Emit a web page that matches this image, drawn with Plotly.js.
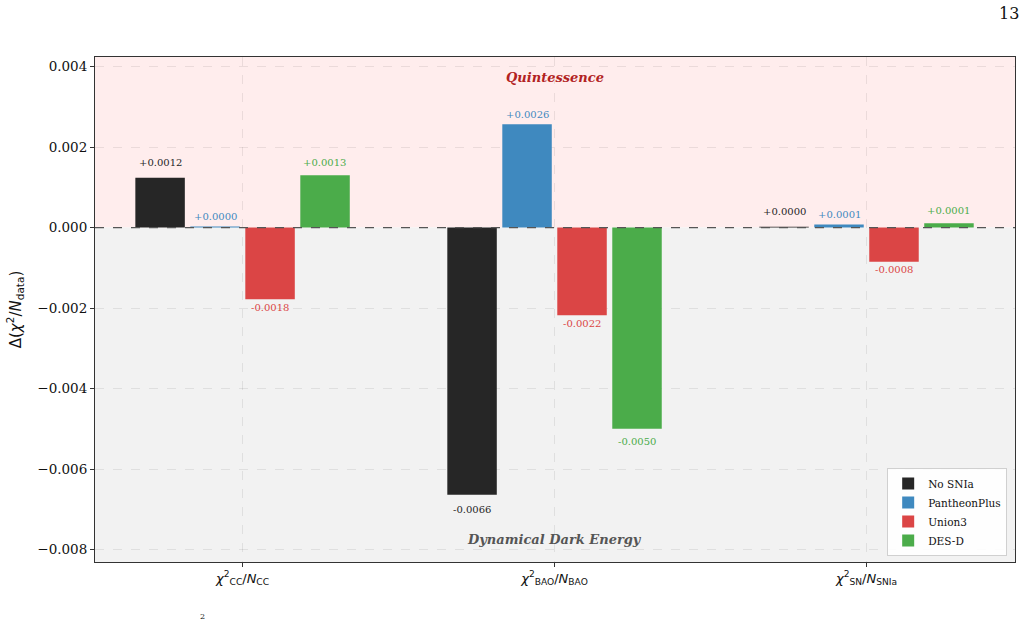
<!DOCTYPE html>
<html>
<head>
<meta charset="utf-8">
<script src="https://cdn.plot.ly/plotly-3.0.1.min.js"></script>
<style>html,body{margin:0;padding:0;background:#fff;}#chart{width:1024px;height:622px;}</style>
</head>
<body>
<div id="chart"></div>
<script>
var categories = [
  "<i>χ</i><sup>2</sup><sub>CC</sub>/<i>N</i><sub>CC</sub>",
  "<i>χ</i><sup>2</sup><sub>BAO</sub>/<i>N</i><sub>BAO</sub>",
  "<i>χ</i><sup>2</sup><sub>SN</sub>/<i>N</i><sub>SNIa</sub>"
];
var seriesNames = ["No SNIa", "PantheonPlus", "Union3", "DES-D"];
var noSNIa = [0.00124, -0.00664, 0.00002];
var pantheonPlus = [0.00003, 0.00257, 0.00008];
var union3 = [-0.00178, -0.00218, -0.00085];
var desD = [0.00130, -0.00500, 0.00011];
var seriesValues = [noSNIa, pantheonPlus, union3, desD];
var seriesColors = ["#262626", "#3f89bf", "#db4545", "#4bac4a"];
var yTicks = [-0.008, -0.006, -0.004, -0.002, 0, 0.002, 0.004];

// label styling (pixel offsets of value labels from bar ends)
var labelOffsets = [15, 10, 8, 13];
var barStepPx = 54.9;

function fmt(v) { return (v >= 0 ? "+" : "-") + Math.abs(v).toFixed(4); }

var traces = seriesNames.map(function(name, i) {
  return {
    type: "bar",
    name: name,
    x: categories,
    y: seriesValues[i],
    marker: {color: seriesColors[i], line: {width: 0}},
    hoverinfo: "skip"
  };
});

var valueLabels = [];
seriesValues.forEach(function(vals, i) {
  vals.forEach(function(v, j) {
    valueLabels.push({
      xref: "x", yref: "y", x: categories[j], y: v,
      xshift: (i - 1.5) * barStepPx,
      yshift: (v >= 0 ? 1 : -1) * labelOffsets[i],
      yanchor: "middle", xanchor: "center",
      text: fmt(v), showarrow: false,
      font: {family: "DejaVu Serif", size: 10, color: seriesColors[i]}
    });
  });
});

var yTop = 0.00424, yBot = -0.00831;

var layout = {
  width: 1024, height: 622,
  margin: {l: 95, r: 9, t: 57, b: 60},
  paper_bgcolor: "#ffffff",
  plot_bgcolor: "#ffffff",
  barmode: "group",
  bargap: 0.295,
  bargroupgap: 0.1,
  showlegend: true,
  legend: {
    x: 0.9915, y: 0.012, xanchor: "right", yanchor: "bottom",
    bgcolor: "rgba(255,255,255,0.9)", bordercolor: "#d0d0d0", borderwidth: 1,
    font: {family: "DejaVu Serif", size: 10.5, color: "#111"},
    tracegroupgap: 0, itemwidth: 30
  },
  xaxis: {
    range: [-0.473, 2.476],
    showgrid: true, gridcolor: "rgba(0,0,0,0.08)", griddash: "dash", gridwidth: 1,
    showline: true, mirror: true, linecolor: "#333", linewidth: 1,
    ticks: "outside", ticklen: 4, tickcolor: "#333",
    tickfont: {family: "DejaVu Sans", size: 13, color: "#111"},
    zeroline: false, fixedrange: true
  },
  yaxis: {
    range: [yBot, yTop],
    tickvals: yTicks, tickformat: ".3f",
    showgrid: true, gridcolor: "rgba(0,0,0,0.08)", griddash: "dash", gridwidth: 1,
    showline: true, mirror: true, linecolor: "#333", linewidth: 1,
    ticks: "outside", ticklen: 4, tickcolor: "#333",
    tickfont: {family: "DejaVu Serif", size: 13.5, color: "#111"},
    zeroline: false,
    title: {text: "Δ(<i>χ</i><sup>2</sup>/<i>N</i><sub>data</sub>)", font: {family: "DejaVu Sans", size: 15, color: "#111"}, standoff: 12},
    fixedrange: true
  },
  shapes: [
    {type: "rect", xref: "paper", yref: "y", x0: 0, x1: 1, y0: 0, y1: yTop, fillcolor: "#ffeded", line: {width: 0}, layer: "below"},
    {type: "rect", xref: "paper", yref: "y", x0: 0, x1: 1, y0: yBot, y1: 0, fillcolor: "#f2f2f2", line: {width: 0}, layer: "below"},
    {type: "line", xref: "paper", yref: "y", x0: 0, x1: 1, y0: 0, y1: 0, line: {color: "#555", width: 1.2, dash: "dash"}, layer: "above"}
  ],
  annotations: valueLabels.concat([
    {xref: "x", yref: "y", x: categories[1], y: 0.00374, text: "<b><i>Quintessence</i></b>", showarrow: false,
     font: {family: "DejaVu Serif", size: 13, color: "#b22222"}},
    {xref: "x", yref: "y", x: categories[1], y: -0.00774, text: "<b><i>Dynamical Dark Energy</i></b>", showarrow: false,
     font: {family: "DejaVu Serif", size: 13, color: "#555555"}},
    {xref: "paper", yref: "paper", x: 1.0, xanchor: "right", xshift: 6, y: 1, yshift: 44, yanchor: "middle",
     text: "13", showarrow: false, font: {family: "DejaVu Serif", size: 16, color: "#111"}},
    {xref: "paper", yref: "paper", x: 0.1117, y: 0, yshift: -54, yanchor: "middle",
     text: "2", showarrow: false, font: {family: "DejaVu Serif", size: 8, color: "#111"}}
  ])
};

Plotly.newPlot("chart", traces, layout, {displayModeBar: false, staticPlot: true});
</script>
</body>
</html>
